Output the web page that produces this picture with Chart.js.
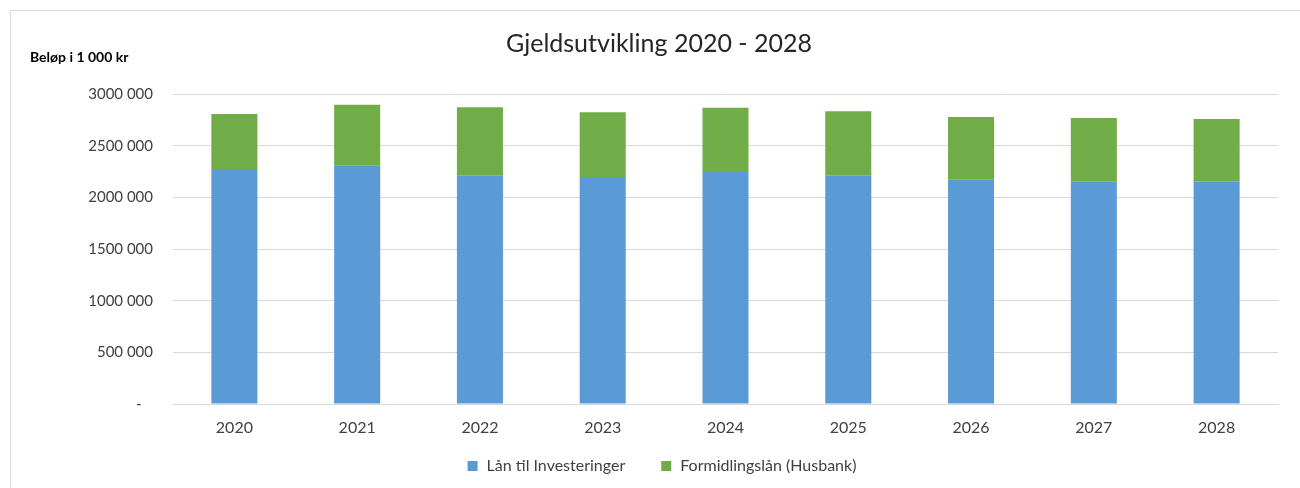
<!DOCTYPE html>
<html>
<head>
<meta charset="utf-8">
<script src="https://cdn.jsdelivr.net/npm/chart.js@4/dist/chart.umd.min.js"></script>
<style>
  html, body { margin: 0; padding: 0; background: #fff; }
  #wrap { position: relative; width: 1300px; height: 488px; }
</style>
</head>
<body>
<div id="wrap"><canvas id="gjeld-chart" width="1300" height="488"></canvas></div>
<script>
// Data (in 1 000 kr)
const years = ["2020", "2021", "2022", "2023", "2024", "2025", "2026", "2027", "2028"];
const lanInvesteringer = [2264000, 2310000, 2213000, 2197000, 2245000, 2213000, 2174000, 2155000, 2155000];
const formidlingslan = [542000, 586000, 658000, 626000, 622000, 619000, 603000, 613000, 603000];
const chartTitle = "Gjeldsutvikling 2020 - 2028";
const unitLabel = "Beløp i 1 000 kr";

const FONT = "Lato, 'Open Sans', sans-serif";

// Excel style "### ##0" with a dash for zero
function formatTick(value) {
    if (value === 0) return "-   ";
    const thousands = Math.floor(value / 1000);
    const rest = String(value % 1000).padStart(3, "0");
    return thousands + " " + rest;
}

// draws frame, title, unit label and the legend (wider item gap than Chart.js gives)
const decorations = {
    id: "decorations",
    beforeDraw(chart) {
        const ctx = chart.ctx;
        ctx.save();
        ctx.strokeStyle = "#d9d9d9";
        ctx.lineWidth = 1;
        ctx.beginPath();
        ctx.moveTo(10.5, 488);
        ctx.lineTo(10.5, 10.5);
        ctx.lineTo(1300, 10.5);
        ctx.stroke();
        ctx.restore();
    },
    afterDraw(chart) {
        const ctx = chart.ctx;
        ctx.save();
        ctx.fillStyle = "#262626";
        ctx.textBaseline = "middle";
        ctx.textAlign = "center";
        ctx.font = "25px " + FONT;
        ctx.fillText(chartTitle, 659, 44);
        ctx.textAlign = "left";
        ctx.font = "bold 14px " + FONT;
        ctx.fillStyle = "#000";
        ctx.fillText(unitLabel, 30, 57);

        // legend
        ctx.font = "16px " + FONT;
        const box = 10, textGap = 9, itemGap = 36, legendY = 466;
        const items = chart.data.datasets.map((ds) => ({
            label: ds.label,
            color: ds.backgroundColor,
            w: box + textGap + ctx.measureText(ds.label).width,
        }));
        const total = items.reduce((s, it) => s + it.w, 0) + itemGap * (items.length - 1);
        let x = 662 - total / 2;
        items.forEach((it) => {
            ctx.fillStyle = it.color;
            ctx.fillRect(x, legendY - box / 2, box, box);
            ctx.fillStyle = "#404040";
            ctx.fillText(it.label, x + box + textGap, legendY);
            x += it.w + itemGap;
        });
        ctx.restore();
    },
};

const canvas = document.getElementById("gjeld-chart");

new Chart(canvas, {
    type: "bar",
    data: {
        labels: years,
        datasets: [
            {
                label: "Lån til Investeringer",
                data: lanInvesteringer,
                backgroundColor: "#5b9bd5",
                borderWidth: 0,
                barPercentage: 0.375,
                categoryPercentage: 1,
            },
            {
                label: "Formidlingslån (Husbank)",
                data: formidlingslan,
                backgroundColor: "#70ad47",
                borderWidth: 0,
                barPercentage: 0.375,
                categoryPercentage: 1,
            },
        ],
    },
    options: {
        responsive: false,
        animation: false,
        layout: {
            padding: { top: 94, left: 0, right: 22, bottom: 39 },
        },
        scales: {
            x: {
                stacked: true,
                grid: { display: false },
                border: { display: true, color: "#d9d9d9", width: 1 },
                ticks: {
                    color: "#404040",
                    padding: 6,
                    font: { family: FONT, size: 16 },
                },
                afterFit(scale) {
                    scale.height = 45;
                },
            },
            y: {
                stacked: true,
                min: 0,
                max: 3000000,
                border: { display: false },
                grid: { color: "#d9d9d9", drawTicks: false },
                ticks: {
                    stepSize: 500000,
                    padding: 20,
                    color: "#404040",
                    font: { family: FONT, size: 15 },
                    callback: (v) => formatTick(v),
                },
                afterFit(scale) {
                    scale.width = 173;
                },
            },
        },
        plugins: {
            title: { display: false },
            tooltip: { enabled: false },
            legend: { display: false },
        },
    },
    plugins: [decorations],
});
</script>
</body>
</html>
